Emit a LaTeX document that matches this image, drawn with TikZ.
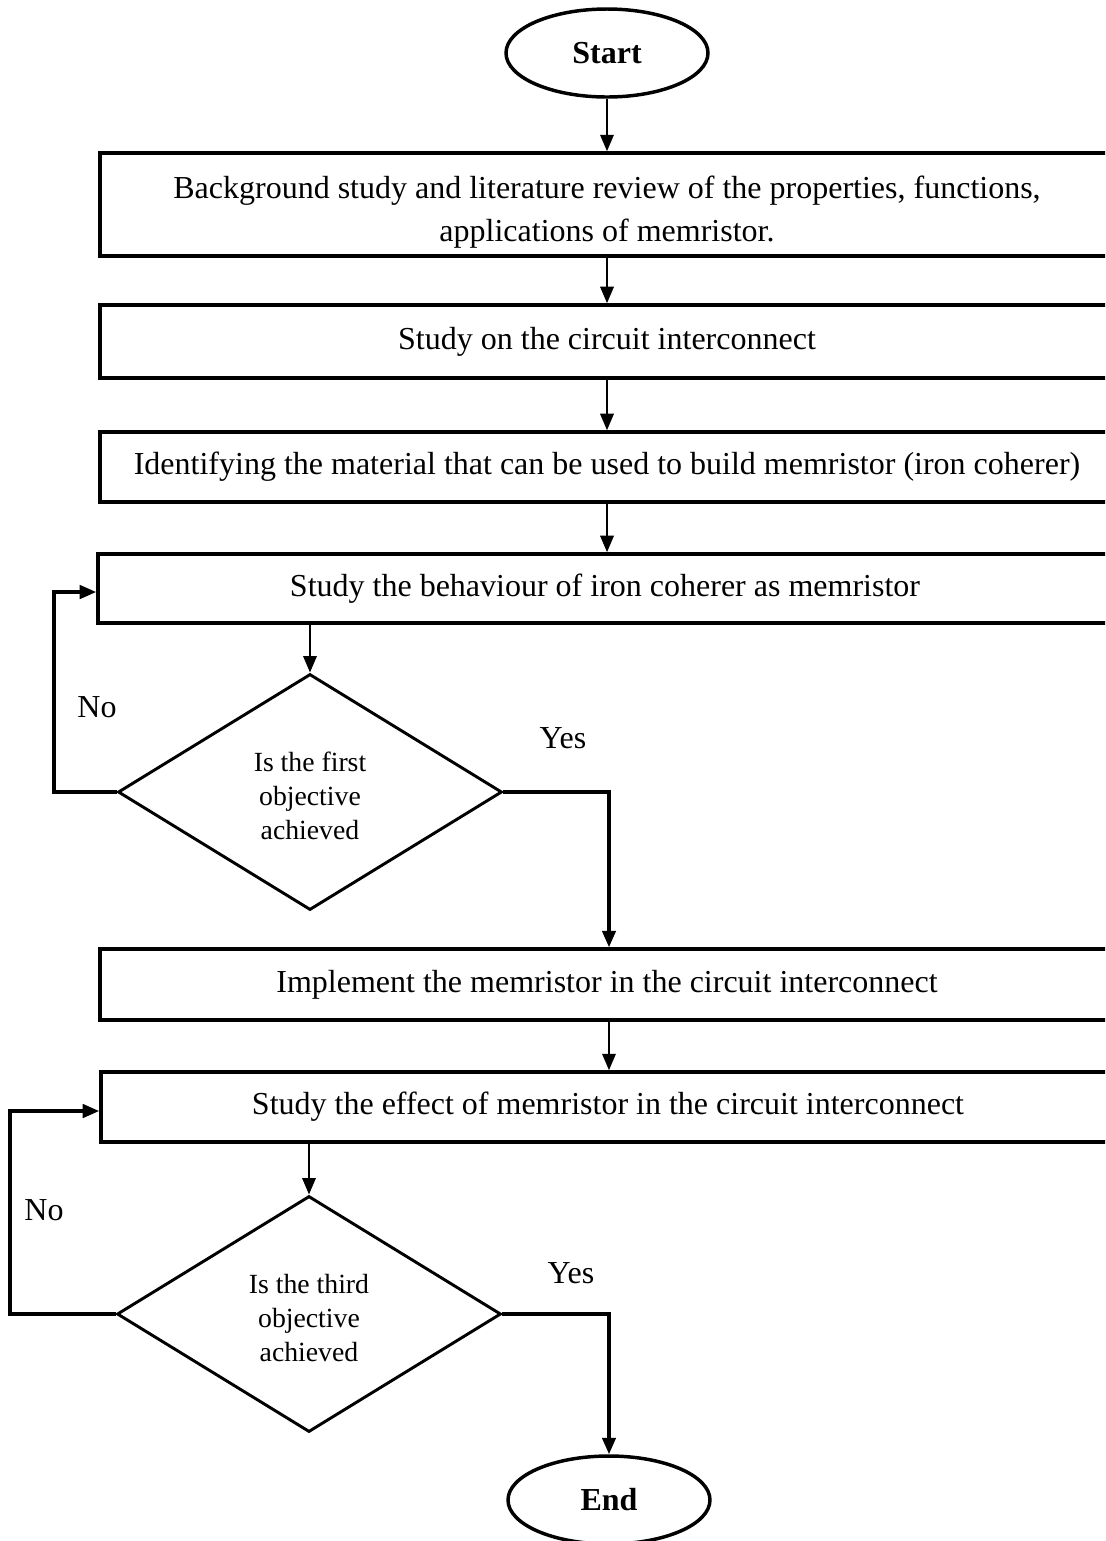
\documentclass[tikz,border=0pt]{standalone}
\usepackage{fontspec}
\setmainfont{Liberation Serif}
\usetikzlibrary{shapes.geometric,arrows.meta}
\begin{document}
\begin{tikzpicture}[x=0.375pt,y=-0.375pt,
  term/.style={ellipse,draw,line width=1.3pt,minimum width=75.75pt,minimum height=33pt,inner sep=0pt,font=\fontsize{12}{15}\selectfont\bfseries},
  stepbox/.style={rectangle,draw,line width=1.3pt,minimum width=380.25pt,inner sep=0pt,align=center,font=\fontsize{12}{16}\selectfont},
  decision/.style={diamond,draw,line width=1.1pt,minimum width=144pt,minimum height=88.5pt,inner sep=0pt,aspect=1.6,align=center,font=\fontsize{10.4}{12.75}\selectfont},
  flow/.style={line width=0.9pt,-{Triangle[length=6.2pt,width=5pt]}},
  loopline/.style={line width=1.3pt,-{Triangle[length=6.2pt,width=5pt]}},
  lbl/.style={font=\fontsize{12}{15}\selectfont,inner sep=0pt}]
\useasboundingbox (0,0) rectangle (1105,1541);
\clip (0,0) rectangle (1105,1541);
\fill[white] (0,0) rectangle (1105,1541);

\node[term] (start) at (607,53) {Start};
\node[stepbox,minimum height=38.6pt] (b1) at (607,204.5) {\rule{0pt}{14pt}Background study and literature review of the properties, functions,\\applications of memristor.};
\node[stepbox,minimum height=27.4pt] (b2) at (607,341.5) {Study on the circuit interconnect};
\node[stepbox,minimum height=26.25pt] (b3) at (607,467) {Identifying the material that can be used to build memristor (iron coherer)};
\node[stepbox,minimum height=25.9pt] (b4) at (605,588.5) {Study the behaviour of iron coherer as memristor};
\node[decision] (d1) at (310,792) {\rule{0pt}{10pt}Is the first\\objective\\achieved};
\node[stepbox,minimum height=26.6pt] (b5) at (607,984.5) {Implement the memristor in the circuit interconnect};
\node[stepbox,minimum height=26.25pt] (b6) at (608,1107) {Study the effect of memristor in the circuit interconnect};
\node[decision] (d2) at (309,1314) {\rule{0pt}{10pt}Is the third\\objective\\achieved};
\node[term] (end) at (609,1500) {End};

\node[lbl] (no1) at (97,707) {No};
\node[lbl] (yes1) at (563,738) {Yes};
\node[lbl] (no2) at (44,1210) {No};
\node[lbl] (yes2) at (571,1273) {Yes};

\coordinate (l1) at (54,592);
\coordinate (y1) at (609,792);
\coordinate (l2) at (10,1111);
\coordinate (y2) at (609,1314);

\draw[flow] (start.south) -- (start.south |- b1.north);
\draw[flow] (b1.south) -- (b1.south |- b2.north);
\draw[flow] (b2.south) -- (b2.south |- b3.north);
\draw[flow] (b3.south) -- (b3.south |- b4.north);
\draw[flow] (d1.north |- b4.south) -- (d1.north);
\draw[loopline] (d1.west) -| (l1) -- (l1 -| b4.west);
\draw[loopline] (d1.east) -- (y1) -- (y1 |- b5.north);
\draw[flow] (b5.south -| y1) -- (b6.north -| y1);
\draw[flow] (d2.north |- b6.south) -- (d2.north);
\draw[loopline] (d2.west) -| (l2) -- (l2 -| b6.west);
\draw[loopline] (d2.east) -- (y2) -- (y2 |- end.north);
\end{tikzpicture}
\end{document}
